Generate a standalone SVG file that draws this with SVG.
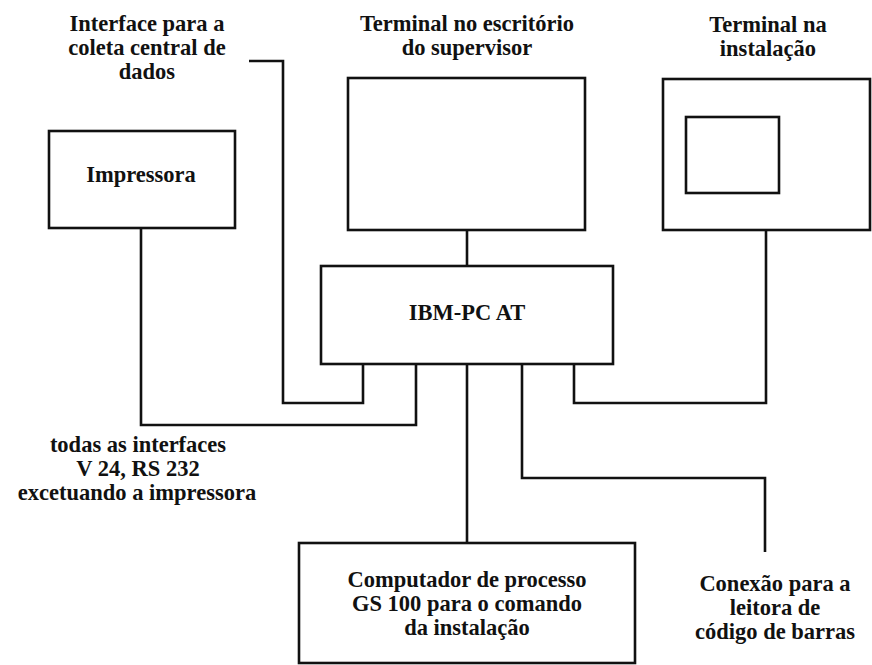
<svg xmlns="http://www.w3.org/2000/svg" width="872" height="665" viewBox="0 0 872 665">
  <style>
    .box { fill: none; stroke: #111; stroke-width: 2.6; }
    .wire { fill: none; stroke: #111; stroke-width: 2.6; stroke-linejoin: miter; }
    text { font-family: "Liberation Serif", "Times New Roman", serif; font-weight: bold; font-size: 22.5px; fill: #111; text-anchor: middle; }
  </style>
  <rect width="872" height="665" fill="#fff"/>

  <g id="connectors">
    <!-- central data collection interface -->
    <polyline class="wire" points="249,61 283,61 283,403 363,403 363,365"/>
    <!-- printer -->
    <polyline class="wire" points="141,228 141,425 416,425 416,365"/>
    <!-- supervisor terminal -->
    <line class="wire" x1="467" y1="230" x2="467" y2="266"/>
    <!-- plant terminal -->
    <polyline class="wire" points="766,230 766,403 574,403 574,365"/>
    <!-- process computer -->
    <line class="wire" x1="467" y1="365" x2="467" y2="543"/>
    <!-- bar code reader -->
    <polyline class="wire" points="522,365 522,478 765,478 765,552"/>
  </g>

  <g id="label-interface">
    <text x="147" y="31">Interface para a</text>
    <text x="147" y="55">coleta central de</text>
    <text x="147" y="79">dados</text>
  </g>

  <g id="terminal-supervisor">
    <rect class="box" x="348" y="78" width="237" height="152"/>
    <text x="467" y="31">Terminal no escritório</text>
    <text x="467" y="55">do supervisor</text>
  </g>

  <g id="terminal-instalacao">
    <rect class="box" x="663" y="79" width="207" height="151"/>
    <rect class="box" x="686" y="117" width="93" height="76"/>
    <text x="768" y="32">Terminal na</text>
    <text x="768" y="56">instalação</text>
  </g>

  <g id="impressora">
    <rect class="box" x="49" y="131" width="186" height="97"/>
    <text x="141" y="182">Impressora</text>
  </g>

  <g id="ibm-pc">
    <rect class="box" x="321" y="266" width="292" height="98"/>
    <text x="467" y="320">IBM-PC AT</text>
  </g>

  <g id="label-interfaces">
    <text x="138" y="452">todas as interfaces</text>
    <text x="138" y="476">V 24, RS 232</text>
    <text x="137" y="500">excetuando a impressora</text>
  </g>

  <g id="computador-processo">
    <rect class="box" x="299" y="543" width="336" height="120"/>
    <text x="467" y="587">Computador de processo</text>
    <text x="467" y="611">GS 100 para o comando</text>
    <text x="467" y="635">da instalação</text>
  </g>

  <g id="label-leitora">
    <text x="775" y="591">Conexão para a</text>
    <text x="775" y="615">leitora de</text>
    <text x="775" y="639">código de barras</text>
  </g>
</svg>
